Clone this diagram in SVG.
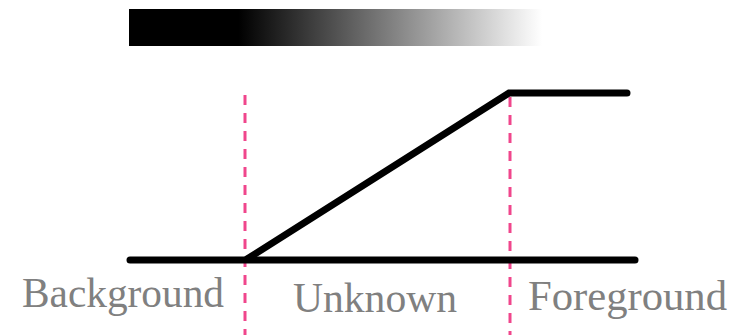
<svg xmlns="http://www.w3.org/2000/svg" width="734" height="335" viewBox="0 0 734 335">
<defs>
<linearGradient id="g" x1="0" y1="0" x2="1" y2="0">
<stop offset="0" stop-color="#000"/>
<stop offset="0.265" stop-color="#000"/>
<stop offset="1" stop-color="#fff"/>
</linearGradient>
<style>
.curve{fill:none;stroke:#000;stroke-width:7;stroke-linecap:round;stroke-linejoin:miter}
.dash{fill:none;stroke:#f0468c;stroke-width:3;stroke-dasharray:10 8}
.lbl{font-family:"Liberation Serif","Times New Roman",serif;font-size:42px;fill:#808080}
</style>
</defs>
<rect id="gradient-bar" x="129" y="9" width="413" height="37" fill="url(#g)"/>
<g id="connectors">
<line class="dash" x1="245" y1="95" x2="245" y2="335"/>
<line class="dash" x1="510" y1="97" x2="510" y2="335"/>
<line class="curve" x1="130" y1="260" x2="635" y2="260"/>
<polyline class="curve" points="247,259 509,93 627,93"/>
</g>
<g id="label-background"><text class="lbl" x="22" y="307" font-size="41" textLength="202" lengthAdjust="spacingAndGlyphs">Background</text></g>
<g id="label-unknown"><text class="lbl" x="293" y="311.5" font-size="44" textLength="164" lengthAdjust="spacingAndGlyphs">Unknown</text></g>
<g id="label-foreground"><text class="lbl" x="528" y="309.5" textLength="199" lengthAdjust="spacingAndGlyphs">Foreground</text></g>
</svg>
